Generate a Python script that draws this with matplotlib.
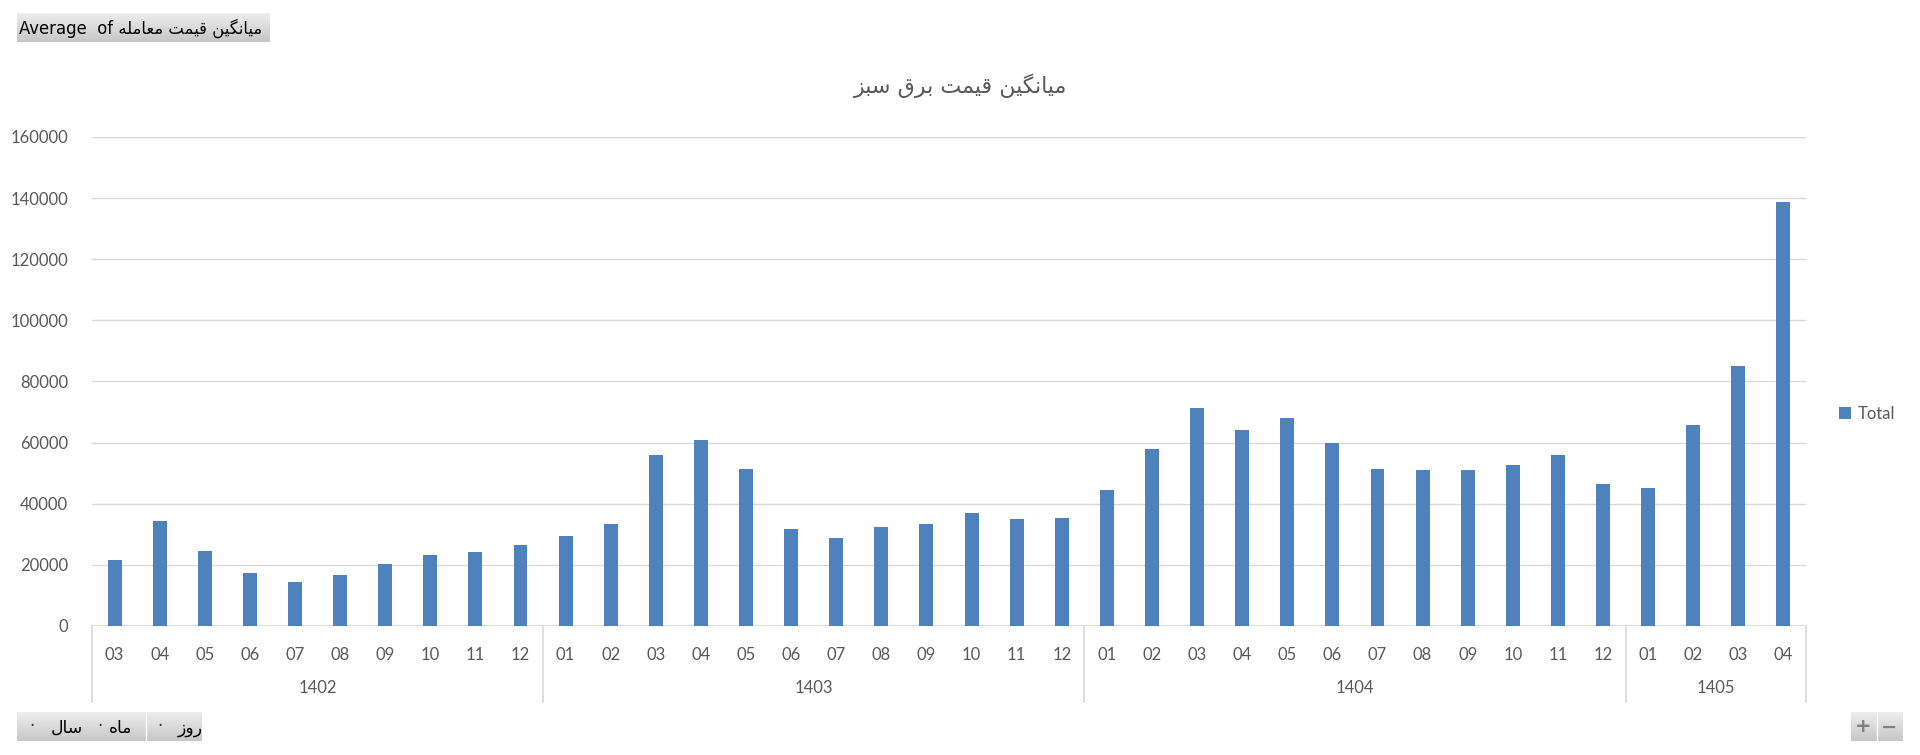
import numpy as np
import matplotlib.pyplot as plt
import matplotlib.transforms as mtransforms

# Data
years = ['1402', '1403', '1404', '1405']
months_per_year = [
    ['03', '04', '05', '06', '07', '08', '09', '10', '11', '12'],
    ['01', '02', '03', '04', '05', '06', '07', '08', '09', '10', '11', '12'],
    ['01', '02', '03', '04', '05', '06', '07', '08', '09', '10', '11', '12'],
    ['01', '02', '03', '04'],
]
values_1402 = [21500, 34200, 24600, 17200, 14500, 16800, 20400, 23300, 24100, 26500]
values_1403 = [29300, 33500, 56100, 61000, 51300, 31700, 28900, 32500, 33300, 36900, 34900, 35300]
values_1404 = [44400, 57800, 71300, 64100, 67900, 59800, 51300, 50900, 50900, 52600, 55800, 46600]
values_1405 = [45000, 65700, 85000, 138800]

title_text = 'میانگین قیمت برق سبز'
field_text = 'میانگین قیمت معامله'
axis_fields = ['روز', 'ماه', 'سال']
series_name = 'Total'

# very small Persian shaper (matplotlib does no Arabic shaping / bidi)
FORMS = {
    '\u0627': ('\uFE8D', '\uFE8E', None, None),
    '\u0628': ('\uFE8F', '\uFE90', '\uFE91', '\uFE92'),
    '\u062A': ('\uFE95', '\uFE96', '\uFE97', '\uFE98'),
    '\u0631': ('\uFEAD', '\uFEAE', None, None),
    '\u0632': ('\uFEAF', '\uFEB0', None, None),
    '\u0633': ('\uFEB1', '\uFEB2', '\uFEB3', '\uFEB4'),
    '\u0639': ('\uFEC9', '\uFECA', '\uFECB', '\uFECC'),
    '\u0642': ('\uFED5', '\uFED6', '\uFED7', '\uFED8'),
    '\u0644': ('\uFEDD', '\uFEDE', '\uFEDF', '\uFEE0'),
    '\u0645': ('\uFEE1', '\uFEE2', '\uFEE3', '\uFEE4'),
    '\u0646': ('\uFEE5', '\uFEE6', '\uFEE7', '\uFEE8'),
    '\u0647': ('\uFEE9', '\uFEEA', '\uFEEB', '\uFEEC'),
    '\u0648': ('\uFEED', '\uFEEE', None, None),
    '\u06AF': ('\uFB92', '\uFB93', '\uFB94', '\uFB95'),
    '\u06CC': ('\uFBFC', '\uFBFD', '\uFBFE', '\uFBFF'),
}


def fa(s):
    out = []
    for i, c in enumerate(s):
        f = FORMS.get(c)
        if f is None:
            out.append(c)
            continue
        prev = s[i - 1] if i > 0 else ''
        nxt = s[i + 1] if i + 1 < len(s) else ''
        jp = prev in FORMS and FORMS[prev][2] is not None
        jn = f[2] is not None and nxt in FORMS
        if jp and jn:
            out.append(f[3])
        elif jp:
            out.append(f[1])
        elif jn:
            out.append(f[2])
        else:
            out.append(f[0])
    return ''.join(out)[::-1]


values = values_1402 + values_1403 + values_1404 + values_1405
month_labels = [m for ms in months_per_year for m in ms]
x = np.arange(len(values))

W, H = 1920, 755
fig = plt.figure(figsize=(W / 100, H / 100), dpi=100)
fig.patch.set_facecolor('white')

left, right, top, bottom = 92, 1806, 137, 626
ax = fig.add_axes([left / W, 1 - bottom / H, (right - left) / W, (bottom - top) / H])

bars = ax.bar(x, values, width=0.31, color='#4F81BD', label=series_name, zorder=3)
ax.set_xlim(-0.5, len(values) - 0.5)
ax.set_ylim(0, 160000)
ax.set_yticks(np.arange(0, 160001, 20000))
ax.yaxis.grid(True, color='#D9D9D9', linewidth=1, zorder=0)
for sp in ax.spines.values():
    sp.set_visible(False)
ax.axhline(0, color='#D9D9D9', linewidth=1.2, zorder=2)
ax.tick_params(axis='y', length=0, pad=17, labelsize=12, labelcolor='#595959')
ax.tick_params(axis='x', length=0, pad=15, labelsize=12, labelcolor='#595959')
ax.set_xticks(x)
ax.set_xticklabels(month_labels)
for lab in ax.get_xticklabels() + ax.get_yticklabels():
    lab.set_family('Lato')

# year level of the category axis
trans = mtransforms.blended_transform_factory(ax.transData, ax.transAxes)
depth = (702 - bottom) / (bottom - top)
edges = [-0.5]
start = 0
for yr, ms in zip(years, months_per_year):
    end = start + len(ms)
    ax.text((start + end - 1) / 2, -(688 - bottom) / (bottom - top), yr, transform=trans,
            ha='center', va='center', fontsize=12, color='#595959', family='Lato')
    edges.append(end - 0.5)
    start = end
for e in edges:
    ax.plot([e, e], [0, -depth], transform=trans, color='#D9D9D9', linewidth=1.2, clip_on=False)

# title
fig.text(961 / W, 1 - 86 / H, fa(title_text), ha='center', va='center', fontsize=16,
         color='#595959', family='DejaVu Sans')

# legend
fig.legend(handles=[bars], labels=[series_name], loc='center left',
           bbox_to_anchor=(1824 / W, 1 - 414 / H), frameon=False, handlelength=0.7,
           handleheight=0.7, handletextpad=0.4, prop={'family': 'Lato', 'size': 12},
           labelcolor='#595959')


def button(x0, y0, x1, y1):
    bax = fig.add_axes([x0 / W, 1 - y1 / H, (x1 - x0) / W, (y1 - y0) / H])
    grad = np.linspace(0.93, 0.78, 50).reshape(-1, 1)
    bax.imshow(np.dstack([grad] * 3), aspect='auto', extent=[0, 1, 0, 1])
    bax.set_axis_off()
    return bax


# field button top-left
button(17, 13, 270, 42)
fig.text(19 / W, 1 - 28 / H, 'Average  of ' + fa(field_text), ha='left', va='center',
         fontsize=11.9, color='black', family='DejaVu Sans')

# axis field buttons bottom-left
b = button(17, 712, 202, 741)
b.axvline((146 - 17) / (202 - 17), color='white', linewidth=1)
pos = [(190, 160), (121, 100), (67, 32)]
for name, (tx, dx) in zip(axis_fields, pos):
    fig.text(tx / W, 1 - 728 / H, fa(name), ha='center', va='center', fontsize=12.4,
             color='black', family='DejaVu Sans')
    fig.text(dx / W, 1 - 726 / H, '·', ha='center', va='center', fontsize=12,
             color='#333333', family='DejaVu Sans')

# +/- buttons bottom-right
pm = button(1851, 712, 1902, 741)
pm.axvline(0.5, color='white', linewidth=1)
fig.text(1863.5 / W, 1 - 727 / H, '+', ha='center', va='center', fontsize=14,
         color='#7F7F7F', weight='bold', family='DejaVu Sans')
fig.text(1889 / W, 1 - 727 / H, '−', ha='center', va='center', fontsize=14,
         color='#7F7F7F', weight='bold', family='DejaVu Sans')

fig.savefig('out.png', dpi=100)
